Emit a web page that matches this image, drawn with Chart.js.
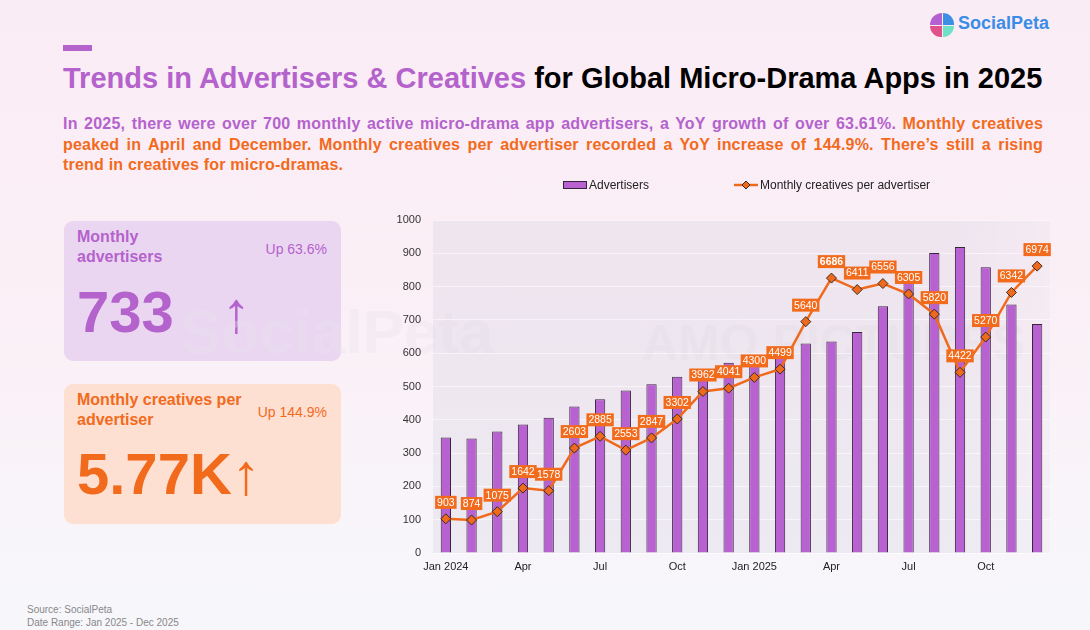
<!DOCTYPE html>
<html>
<head>
<meta charset="utf-8">
<script src="https://cdn.jsdelivr.net/npm/chart.js@4.4.1/dist/chart.umd.min.js"></script>
<style>
  html, body { margin: 0; padding: 0; }
  body {
    width: 1090px; height: 630px; position: relative; overflow: hidden;
    font-family: "Liberation Sans", Arial, sans-serif;
    background: linear-gradient(180deg, #faecf5 0%, #fbeff6 45%, #f9f4f9 75%, #f7f7fb 100%);
  }
  .abs { position: absolute; }
  .dash { left: 63px; top: 45px; width: 29px; height: 6px; background: #b462cc; }
  .title { left: 63px; top: 62px; font-size: 29px; font-weight: bold; white-space: nowrap; color: #000; }
  .title .hl { color: #b462cc; }
  .sub { left: 63px; top: 114px; width: 980px; font-size: 16px; font-weight: bold; line-height: 20.5px;
         color: #f26a1c; letter-spacing: 0.2px; }
  .sub .ln { white-space: nowrap; text-align: justify; text-align-last: justify; }
  .sub .last { white-space: nowrap; }
  .sub .p { color: #b462cc; }
  .logo { left: 930px; top: 13px; width: 24px; height: 24px; }
  .logo div { position: absolute; width: 11.5px; height: 11.5px; }
  .logoText { left: 958px; top: 13px; font-size: 18px; font-weight: bold; color: #3a8de6; }
  .card { left: 64px; width: 277px; height: 140px; border-radius: 9px; }
  .c1 { top: 221px; background: #ebd6f2; color: #b462cc; }
  .c2 { top: 384px; background: #fde0d2; color: #f26a1c; }
  .card .h { position: absolute; left: 13px; top: 6px; font-size: 16px; font-weight: bold; line-height: 20px; }
  .card .up { position: absolute; right: 14px; font-size: 14px; }
  .card .big { position: absolute; left: 13px; font-size: 58px; font-weight: bold; line-height: 1; }
  .card .arr { font-weight: normal; }
  .wm { font-weight: bold; white-space: nowrap; pointer-events: none; }
  .src { left: 27px; top: 603px; font-size: 10px; line-height: 13px; color: #888; }
  #wrap { position: absolute; left: 380px; top: 170px; width: 700px; height: 410px; }
</style>
</head>
<body>
<div class="abs dash"></div>
<div class="abs logo">
  <div style="left:0;top:0;background:#b55fd0;border-radius:12px 0 0 0"></div>
  <div style="right:0;top:0;background:#3d8fe6;border-radius:0 12px 0 0"></div>
  <div style="left:0;bottom:0;background:#e0508a;border-radius:0 0 0 12px"></div>
  <div style="right:0;bottom:0;background:#6fe0c6;border-radius:0 0 12px 0"></div>
</div>
<div class="abs logoText">SocialPeta</div>
<div class="abs title"><span class="hl">Trends in Advertisers &amp; Creatives</span> for Global Micro-Drama Apps in 2025</div>
<div class="abs sub">
  <div class="ln"><span class="p">In 2025, there were over 700 monthly active micro-drama app advertisers, a YoY growth of over 63.61%.</span> Monthly creatives</div>
  <div class="ln">peaked in April and December. Monthly creatives per advertiser recorded a YoY increase of 144.9%. There’s still a rising</div>
  <div class="last">trend in creatives for micro-dramas.</div>
</div>

<div class="abs card c1">
  <div class="h">Monthly<br>advertisers</div>
  <div class="up" style="top:20px">Up 63.6%</div>
  <div class="big" style="top:62px">733 <span class="arr" style="margin-left:32px">↑</span></div>
</div>
<div class="abs card c2">
  <div class="h">Monthly creatives per<br>advertiser</div>
  <div class="up" style="top:20px">Up 144.9%</div>
  <div class="big" style="top:61px">5.77K<span class="arr">↑</span></div>
</div>
<div class="abs wm" style="left:180px;top:296px;font-size:62px;color:rgba(232,226,236,0.35)">SocialPeta</div>
<div class="abs wm" style="left:642px;top:314px;font-size:50px;color:rgba(190,178,198,0.09)">AMO PICTURES</div>

<div id="wrap"><canvas id="chart"></canvas></div>

<div class="abs src">Source: SocialPeta<br>Date Range: Jan 2025 - Dec 2025</div>

<script>
// months on the x axis
const months = ['Jan 2024','Feb 2024','Mar 2024','Apr 2024','May 2024','Jun 2024','Jul 2024','Aug 2024','Sep 2024','Oct 2024','Nov 2024','Dec 2024',
                'Jan 2025','Feb 2025','Mar 2025','Apr 2025','May 2025','Jun 2025','Jul 2025','Aug 2025','Sep 2025','Oct 2025','Nov 2025','Dec 2025'];
// only every third month gets a label
const tickLabels = ['Jan 2024','','','Apr','','','Jul','','','Oct','','',
                    'Jan 2025','','','Apr','','','Jul','','','Oct','',''];
// monthly active advertisers (left axis)
const advertisers = [347,344,365,386,406,440,462,488,507,529,550,571,575,595,629,635,664,741,820,901,919,858,746,688];
// monthly creatives per advertiser (hidden right axis)
const creativesPerAdvertiser = [903,874,1075,1642,1578,2603,2885,2553,2847,3302,3962,4041,4300,4499,5640,6686,6411,6556,6305,5820,4422,5270,6342,6974];
const yTicks = [0,100,200,300,400,500,600,700,800,900,1000];

const PURPLE = '#b862d1';
const ORANGE = '#f06a1e';

// grey plot background
const plotBg = {
  id: 'plotBg',
  beforeDraw(chart) {
    const a = chart.chartArea, ctx = chart.ctx;
    ctx.save();
    const g = ctx.createLinearGradient(a.left, 0, a.right, 0);
    g.addColorStop(0, 'rgba(215,212,225,0.35)');
    g.addColorStop(0.85, 'rgba(215,212,225,0.35)');
    g.addColorStop(1, 'rgba(215,212,225,0.15)');
    ctx.fillStyle = g;
    ctx.fillRect(a.left, a.top, a.right - a.left, a.bottom - a.top);
    ctx.restore();
  }
};

// orange value boxes above the line points
const valueBoxes = {
  id: 'valueBoxes',
  afterDatasetsDraw(chart) {
    const ctx = chart.ctx;
    const meta = chart.getDatasetMeta(0);
    ctx.save();
    ctx.textAlign = 'center';
    ctx.textBaseline = 'middle';
    meta.data.forEach((pt, i) => {
      const txt = String(creativesPerAdvertiser[i]);
      const bold = i === 15;
      ctx.font = (bold ? 'bold ' : '') + '10.5px "Liberation Sans", Arial, sans-serif';
      const w = ctx.measureText(txt).width + 4;
      const h = 13;
      const cx = pt.x, by = pt.y - 10;
      ctx.fillStyle = '#f26b1d';
      ctx.fillRect(cx - w / 2, by - h, w, h);
      ctx.fillStyle = '#fff';
      ctx.fillText(txt, cx, by - h / 2 + 0.5);
    });
    ctx.restore();
  }
};

// legend row above the plot
const topLegend = {
  id: 'topLegend',
  afterDraw(chart) {
    const ctx = chart.ctx;
    const y = 15;
    ctx.save();
    ctx.font = '12px "Liberation Sans", Arial, sans-serif';
    ctx.textBaseline = 'middle';
    ctx.fillStyle = PURPLE;
    ctx.strokeStyle = '#3b2340';
    ctx.lineWidth = 1;
    ctx.fillRect(183, y - 4, 24, 8);
    ctx.strokeRect(183.5, y - 3.5, 23, 7);
    ctx.fillStyle = '#222';
    ctx.fillText(chart.data.datasets[1].label, 209, y + 1);
    ctx.strokeStyle = ORANGE;
    ctx.lineWidth = 2.5;
    ctx.beginPath(); ctx.moveTo(354, y); ctx.lineTo(378, y); ctx.stroke();
    ctx.fillStyle = ORANGE;
    ctx.strokeStyle = '#3a2a20';
    ctx.lineWidth = 1;
    ctx.beginPath();
    ctx.moveTo(366, y - 4); ctx.lineTo(370, y); ctx.lineTo(366, y + 4); ctx.lineTo(362, y); ctx.closePath();
    ctx.fill(); ctx.stroke();
    ctx.fillStyle = '#222';
    ctx.fillText(chart.data.datasets[0].label, 380, y + 1);
    ctx.restore();
  }
};

new Chart(document.getElementById('chart'), {
  data: {
    labels: months,
    datasets: [{
      type: 'line',
      label: 'Monthly creatives per advertiser',
      data: creativesPerAdvertiser,
      yAxisID: 'y2',
      borderColor: ORANGE,
      borderWidth: 2.5,
      pointStyle: 'rectRot',
      pointRadius: 5,
      pointBackgroundColor: ORANGE,
      pointBorderColor: '#3a2a20',
      pointBorderWidth: 1,
      tension: 0,
      order: 0
    }, {
      type: 'bar',
      label: 'Advertisers',
      data: advertisers,
      yAxisID: 'y',
      backgroundColor: PURPLE,
      borderColor: '#3b2340',
      borderWidth: 1,
      barPercentage: 0.4,
      categoryPercentage: 1,
      order: 1
    }]
  },
  options: {
    responsive: true,
    maintainAspectRatio: false,
    animation: false,
    layout: { padding: { top: 50, right: 30, left: 0, bottom: 0 } },
    plugins: { legend: { display: false }, tooltip: { enabled: false } },
    scales: {
      x: {
        grid: { display: false, drawTicks: false },
        border: { display: false },
        ticks: {
          autoSkip: false, maxRotation: 0, padding: 7,
          color: '#222', font: { family: '"Liberation Sans", Arial', size: 11 },
          callback: (v, i) => tickLabels[i]
        },
        afterFit: s => { s.height = 27; }
      },
      y: {
        min: 0, max: 1000,
        afterBuildTicks: s => { s.ticks = yTicks.map(v => ({ value: v })); },
        grid: { color: 'rgba(255,255,255,0.55)', lineWidth: 1, drawTicks: false },
        border: { display: false },
        ticks: {
          padding: 12, color: '#333', font: { family: '"Liberation Sans", Arial', size: 11 },
          callback: v => String(v)
        },
        afterFit: s => { s.width = 53; }
      },
      y2: { display: false, min: 82, max: 8082 }
    }
  },
  plugins: [plotBg, valueBoxes, topLegend]
});
</script>
</body>
</html>
